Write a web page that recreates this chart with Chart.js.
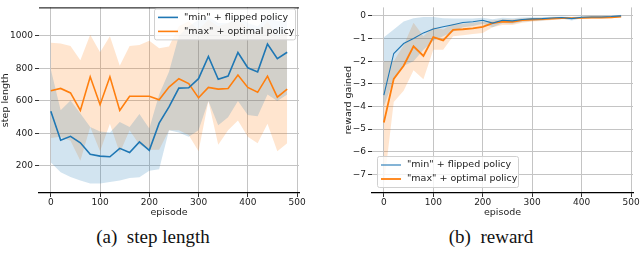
<!DOCTYPE html>
<html>
<head>
<meta charset="utf-8">
<script src="https://cdn.jsdelivr.net/npm/chart.js@4"></script>
<style>
  body { margin: 0; background: #fff; width: 640px; height: 259px; overflow: hidden; position: relative; }
  canvas { position: absolute; top: 0; }
  #left { left: 0; }
  #right { left: 320px; }
  .cap { position: absolute; top: 226px; font-family: "Liberation Serif", serif; font-size: 19px; color: #111; white-space: pre; transform: translateX(-50%); }
</style>
</head>
<body>
<canvas id="left" width="320" height="225"></canvas>
<canvas id="right" width="320" height="225"></canvas>
<div class="cap" style="left:153px">(a)  step length</div>
<div class="cap" style="left:491px">(b)  reward</div>
<script>
var episodes = [0, 20, 40, 60, 80, 100, 120, 140, 160, 180, 200, 220, 240, 260, 280, 300, 320, 340, 360, 380, 400, 420, 440, 460, 480];
var xTicks = [0, 100, 200, 300, 400, 500];
var stepTicks = [200, 400, 600, 800, 1000];
var rewardTicks = [-7, -6, -5, -4, -3, -2, -1, 0];
var seriesNames = ['"min" + flipped policy', '"max" + optimal policy'];

// step length
var blueStepMean = [537, 358, 382, 342, 272, 260, 256, 308, 282, 348, 296, 463, 563, 679, 681, 737, 874, 733, 753, 898, 804, 779, 950, 860, 900];
var blueStepUpper = [793, 542, 602, 522, 440, 412, 405, 470, 440, 520, 430, 640, 780, 1000, 1060, 1100, 1120, 1080, 1080, 1120, 1080, 1060, 1120, 1090, 1100];
var blueStepLower = [221, 161, 131, 110, 92, 92, 100, 110, 125, 130, 170, 180, 420, 406, 380, 420, 600, 450, 500, 600, 513, 505, 640, 600, 640];
var orangeStepMean = [663, 677, 649, 541, 749, 577, 749, 541, 629, 629, 629, 607, 685, 737, 707, 619, 683, 673, 677, 759, 683, 653, 753, 623, 673];
var orangeStepUpper = [958, 954, 938, 850, 1008, 900, 998, 817, 938, 944, 970, 924, 935, 1060, 1090, 1040, 1100, 1060, 1080, 1100, 1050, 1020, 1090, 1000, 1030];
var orangeStepLower = [372, 380, 355, 231, 440, 290, 460, 280, 420, 330, 300, 300, 420, 420, 390, 290, 600, 330, 420, 480, 380, 340, 460, 290, 340];

// reward gained
var blueRewMean = [-3.5, -1.66, -1.22, -1.0, -0.75, -0.58, -0.48, -0.39, -0.29, -0.26, -0.19, -0.32, -0.19, -0.22, -0.16, -0.13, -0.12, -0.09, -0.07, -0.12, -0.06, -0.05, -0.05, -0.03, 0.0];
var blueRewUpper = [-0.94, -0.6, -0.25, -0.1, -0.05, -0.05, -0.1, -0.12, -0.12, -0.12, -0.08, -0.15, -0.08, -0.1, -0.07, -0.06, -0.06, -0.04, -0.03, -0.05, -0.02, -0.02, -0.02, -0.01, 0.05];
var blueRewLower = [-4.0, -2.8, -2.2, -2.0, -1.5, -1.1, -0.9, -0.7, -0.5, -0.45, -0.35, -0.5, -0.32, -0.35, -0.26, -0.22, -0.2, -0.15, -0.12, -0.2, -0.1, -0.09, -0.08, -0.06, -0.04];
var orangeRewMean = [-4.71, -2.78, -2.2, -1.34, -1.77, -0.94, -1.08, -0.62, -0.59, -0.55, -0.48, -0.32, -0.25, -0.26, -0.19, -0.16, -0.14, -0.12, -0.1, -0.1, -0.09, -0.07, -0.07, -0.06, -0.03];
var orangeRewUpper = [-2.0, -2.0, -1.3, -0.3, -0.9, -0.5, -0.6, -0.35, -0.35, -0.3, -0.25, -0.2, -0.15, -0.15, -0.1, -0.09, -0.08, -0.07, -0.05, -0.05, -0.04, -0.03, -0.03, -0.02, 0.0];
var orangeRewLower = [-7.5, -3.8, -3.3, -2.4, -2.8, -1.5, -1.5, -0.9, -0.85, -0.8, -0.75, -0.5, -0.4, -0.4, -0.3, -0.25, -0.22, -0.18, -0.15, -0.15, -0.14, -0.12, -0.11, -0.1, -0.06];

var BLUE = '#1f77b4', ORANGE = '#ff7f0e';
var FONT = 'DejaVu Sans';

function pts(vals) {
    return episodes.map(function(e, i) { return {x: e, y: vals[i]}; });
}

function line(vals, color, width) {
    return {data: pts(vals), borderColor: color, borderWidth: width, pointRadius: 0, fill: false, tension: 0};
}

function band(vals, color, fillTo) {
    return {data: pts(vals), borderWidth: 0, borderColor: 'transparent', pointRadius: 0, tension: 0,
            fill: fillTo === undefined ? false : {target: fillTo}, backgroundColor: color};
}

// legend drawn inside the plot area, matplotlib style
var boxLegend = {
    id: 'boxLegend',
    afterDraw: function(chart, args, opts) {
        var ctx = chart.ctx, a = chart.chartArea;
        var w = opts.width, h = 31;
        var x = opts.corner === 'tr' ? a.right - 4 - w : a.left + 5;
        var y = opts.corner === 'tr' ? a.top + 1 : a.bottom - 6 - h;
        ctx.save();
        if (opts.topLine) {
            ctx.strokeStyle = '#000'; ctx.lineWidth = 1;
            ctx.beginPath(); ctx.moveTo(a.left, a.top + 0.5); ctx.lineTo(a.right, a.top + 0.5); ctx.stroke();
        }
        ctx.fillStyle = 'rgba(255,255,255,0.8)';
        ctx.strokeStyle = '#d0d0d0';
        ctx.lineWidth = 1;
        ctx.beginPath();
        ctx.roundRect(x + 0.5, y + 0.5, w, h, 2);
        ctx.fill(); ctx.stroke();
        ctx.font = '9.5px "' + FONT + '"';
        ctx.textBaseline = 'middle';
        ctx.fillStyle = '#222';
        var colors = [BLUE, ORANGE];
        for (var i = 0; i < 2; i++) {
            var ly = y + 9 + i * 14;
            ctx.strokeStyle = colors[i];
            ctx.lineWidth = opts.widths[i];
            ctx.beginPath(); ctx.moveTo(x + 4, ly); ctx.lineTo(x + 24, ly); ctx.stroke();
            ctx.fillText(seriesNames[i], x + 30, ly);
        }
        ctx.restore();
    }
};

function axes(cfg) {
    var tickFont = {family: FONT, size: 9};
    return {
        x: {
            type: 'linear', min: -24, max: 504,
            afterBuildTicks: function(s) { s.ticks = xTicks.map(function(v) { return {value: v}; }); },
            afterFit: function(s) { s.height = 32; },
            grid: {color: '#c4c4c4', lineWidth: 1, tickColor: '#333', tickLength: 4},
            border: {display: true, color: '#000', width: 1.2},
            ticks: {font: tickFont, color: '#222', padding: 0, maxRotation: 0},
            title: {display: true, text: 'episode', font: {family: FONT, size: 9.5}, color: '#222', padding: {top: 0, bottom: 7}}
        },
        y: {
            min: cfg.ymin, max: cfg.ymax,
            afterBuildTicks: function(s) { s.ticks = cfg.ticks.map(function(v) { return {value: v}; }); },
            afterFit: function(s) { s.width = cfg.yWidth; },
            grid: {color: '#c4c4c4', lineWidth: 1, tickColor: '#333', tickLength: 4},
            border: {display: false},
            ticks: {font: tickFont, color: '#222', padding: 2,
                    callback: function(v) { return v < 0 ? '\u2212' + Math.abs(v) : String(v); }},
            title: {display: true, text: cfg.title, font: {family: FONT, size: 9.5}, color: '#222', padding: {top: cfg.titlePad, bottom: 0}}
        }
    };
}

new Chart(document.getElementById('left'), {
    type: 'line',
    data: {datasets: [
        line(blueStepMean, BLUE, 1.6),
        line(orangeStepMean, ORANGE, 1.6),
        band(blueStepUpper, 'rgba(31,119,180,0.2)', 3),
        band(blueStepLower, 'transparent'),
        band(orangeStepUpper, 'rgba(255,127,14,0.2)', 5),
        band(orangeStepLower, 'transparent')
    ]},
    options: {
        responsive: false, animation: false, devicePixelRatio: 1,
        layout: {padding: {top: 3, right: 21, left: 0, bottom: 0}},
        scales: axes({ymin: 33, ymax: 1176, ticks: stepTicks, yWidth: 39, title: 'step length', titlePad: 0}),
        plugins: {legend: {display: false}, tooltip: {enabled: false},
                  boxLegend: {corner: 'tr', width: 141, widths: [1.6, 1.6], topLine: true}}
    },
    plugins: [boxLegend]
});

new Chart(document.getElementById('right'), {
    type: 'line',
    data: {datasets: [
        line(blueRewMean, BLUE, 1.1),
        line(orangeRewMean, ORANGE, 1.8),
        band(blueRewUpper, 'rgba(31,119,180,0.2)', 3),
        band(blueRewLower, 'transparent'),
        band(orangeRewUpper, 'rgba(255,127,14,0.2)', 5),
        band(orangeRewLower, 'transparent')
    ]},
    options: {
        responsive: false, animation: false, devicePixelRatio: 1,
        layout: {padding: {top: 3, right: 7, left: 0, bottom: 0}},
        scales: axes({ymin: -7.82, ymax: 0.375, ticks: rewardTicks, yWidth: 52, title: 'reward gained', titlePad: 23}),
        plugins: {legend: {display: false}, tooltip: {enabled: false},
                  boxLegend: {corner: 'bl', width: 141, widths: [1.1, 1.8], topLine: false}}
    },
    plugins: [boxLegend]
});
</script>
</body>
</html>
